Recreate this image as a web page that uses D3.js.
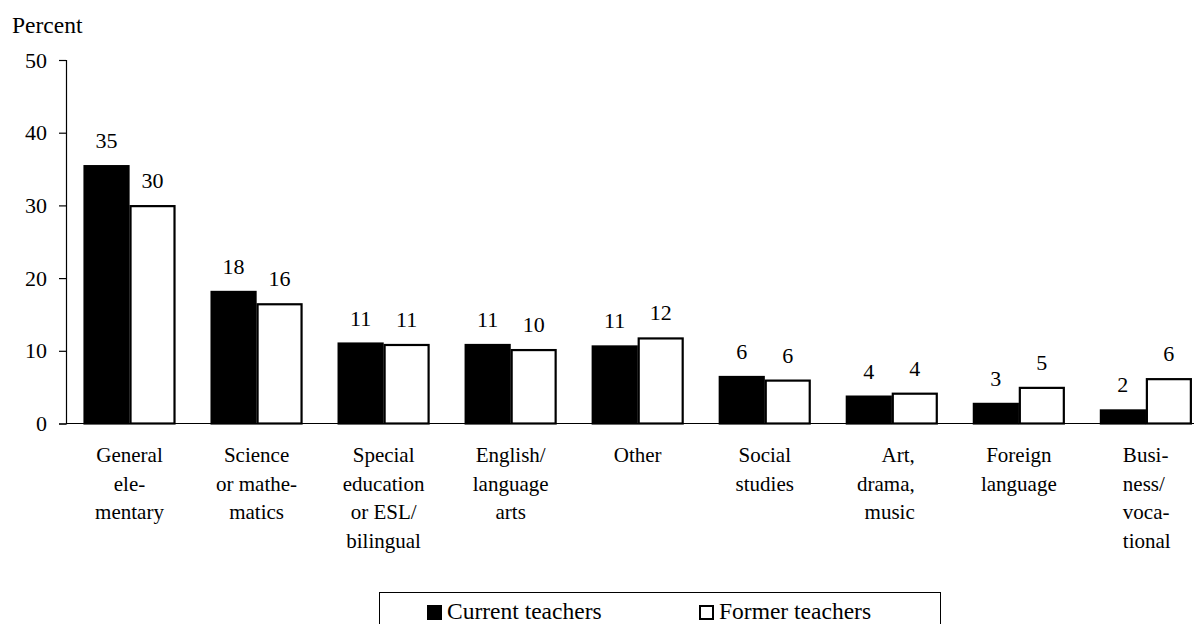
<!DOCTYPE html>
<html>
<head>
<meta charset="utf-8">
<script src="https://cdn.jsdelivr.net/npm/d3@7/dist/d3.min.js"></script>
<style>
  html, body { margin: 0; padding: 0; background: #fff; }
  svg { display: block; }
</style>
</head>
<body>
<svg id="chart" width="1194" height="624" font-family="Liberation Serif" style="font-family: 'Liberation Serif'"></svg>
<script>
// ---- data ----
const categories = [
  ["General", "ele-", "mentary"],
  ["Science", "or mathe-", "matics"],
  ["Special", "education", "or ESL/", "bilingual"],
  ["English/", "language", "arts"],
  ["Other"],
  ["Social", "studies"],
  ["Art,", "drama,", "music"],
  ["Foreign", "language"],
  ["Busi-", "ness/", "voca-", "tional"]
];
const seriesNames = ["Current teachers", "Former teachers"];
const currentTeachers = [35.4, 18.1, 11.0, 10.8, 10.6, 6.4, 3.7, 2.7, 1.8];
const formerTeachers  = [29.9, 16.4, 10.8, 10.1, 11.7, 5.9, 4.1, 4.9, 6.1];
const yTicks = [0, 10, 20, 30, 40, 50];
const yTitle = "Percent";

// ---- layout ----
const W = 1194, H = 624;
const svg = d3.select("#chart");

function txt(sel, fs) {
  return sel
    .attr("font-family", "Liberation Serif")
    .attr("font-size", fs)
    .style("font-family", "'Liberation Serif'")
    .style("font-size", fs + "px")
    .attr("fill", "#000");
}

const x0 = d3.scaleBand()
  .domain(d3.range(categories.length))
  .range([66, 1209.4])
  .paddingInner(0.276)
  .paddingOuter(0.138);
const x1 = d3.scaleBand()
  .domain([0, 1])
  .range([0, x0.bandwidth()]);
const y = d3.scaleLinear().domain([0, 50]).range([423.5, 60]);

const series = [currentTeachers, formerTeachers];
const fills = ["#000", "#fff"];

// y axis
const yAxis = svg.append("g")
  .attr("transform", `translate(${x0.range()[0]},0)`)
  .call(d3.axisLeft(y).tickValues(yTicks).tickSize(7).tickPadding(12).tickFormat(d3.format("d")));
yAxis.attr("font-family", "Liberation Serif").attr("font-size", 22);
yAxis.select(".domain").attr("stroke", "#000").attr("stroke-width", 1.2);
yAxis.selectAll(".tick line").attr("stroke", "#000").attr("stroke-width", 1.2);
txt(yAxis.selectAll(".tick text"), 22);

// y title
txt(svg.append("text").attr("x", 12).attr("y", 33), 23.5).text(yTitle);

// bars
const groups = svg.append("g").selectAll("g")
  .data(categories.map((c, i) => i))
  .join("g")
  .attr("transform", i => `translate(${x0(i)},0)`);

series.forEach((vals, s) => {
  groups.append("rect")
    .attr("x", x1(s) + 1)
    .attr("width", x1.bandwidth() - 2)
    .attr("y", i => y(vals[i]))
    .attr("height", i => y(0) - y(vals[i]))
    .attr("fill", fills[s])
    .attr("stroke", "#000")
    .attr("stroke-width", 2.2);
  txt(groups.append("text"), 22)
    .attr("x", x1(s) + x1.bandwidth() / 2)
    .attr("y", i => y(vals[i]) - 18)
    .attr("text-anchor", "middle")
    .text(i => Math.round(vals[i]));
});

// baseline
svg.append("line")
  .attr("x1", x0.range()[0]).attr("x2", W)
  .attr("y1", y(0)).attr("y2", y(0))
  .attr("stroke", "#000").attr("stroke-width", 1.2);

// category labels
const align = { 6: "end", 8: "start" };
groups.each(function(i) {
  const g = d3.select(this);
  const a = align[i] || "middle";
  const lx = a === "end" ? x1(1) + x1.bandwidth() / 2
           : a === "start" ? x1(0) + x1.bandwidth() / 2
           : x0.bandwidth() / 2;
  const t = txt(g.append("text"), 21).attr("text-anchor", a);
  categories[i].forEach((line, k) => {
    t.append("tspan").attr("x", lx).attr("y", 462 + k * 28.5).text(line);
  });
});

// legend
const leg = svg.append("g");
leg.append("rect")
  .attr("x", 379.5).attr("y", 592.5)
  .attr("width", 561).attr("height", 40)
  .attr("fill", "#fff").attr("stroke", "#000").attr("stroke-width", 1);
const legX = [427, 699];
seriesNames.forEach((name, s) => {
  leg.append("rect")
    .attr("x", legX[s] + 1).attr("y", 606)
    .attr("width", 13).attr("height", 13)
    .attr("fill", fills[s]).attr("stroke", "#000").attr("stroke-width", 2);
  txt(leg.append("text"), 23.5)
    .attr("x", legX[s] + 20).attr("y", 619)
    .text(name);
});
</script>
</body>
</html>
